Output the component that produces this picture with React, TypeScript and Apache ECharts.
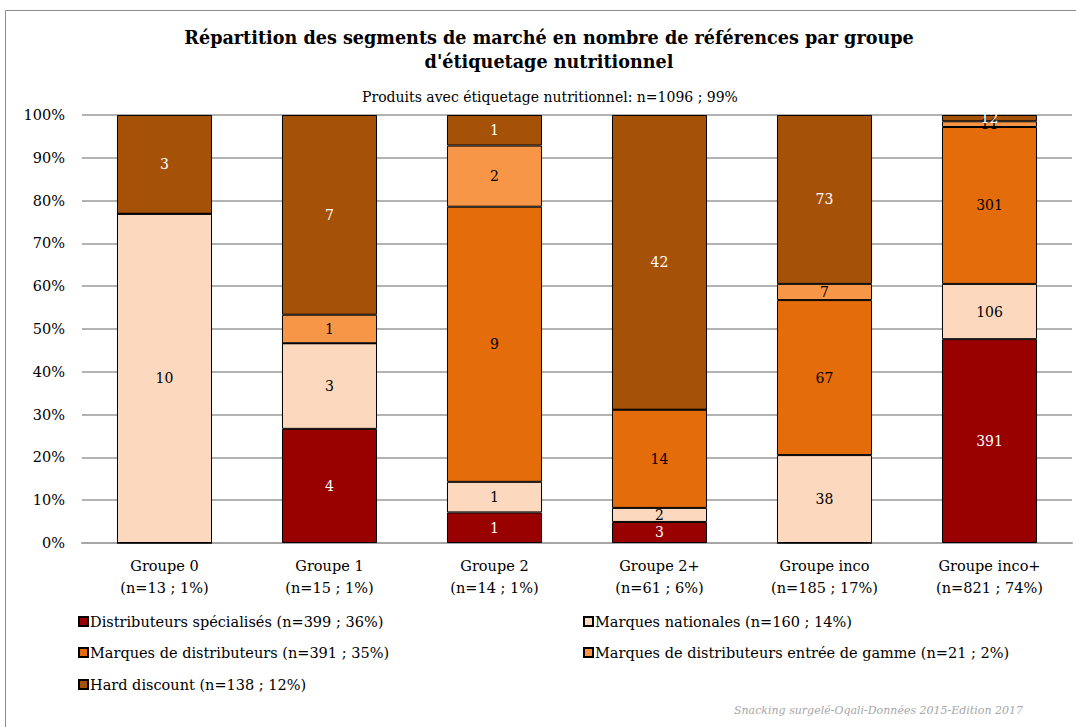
import React, { useEffect, useRef } from "react";
import * as echarts from "echarts";

const categories = [
  "Groupe 0\n(n=13 ; 1%)",
  "Groupe 1\n(n=15 ; 1%)",
  "Groupe 2\n(n=14 ; 1%)",
  "Groupe 2+\n(n=61 ; 6%)",
  "Groupe inco\n(n=185 ; 17%)",
  "Groupe inco+\n(n=821 ; 74%)",
];

const seriesNames = [
  "Distributeurs spécialisés (n=399 ; 36%)",
  "Marques nationales (n=160 ; 14%)",
  "Marques de distributeurs (n=391 ; 35%)",
  "Marques de distributeurs entrée de gamme (n=21 ; 2%)",
  "Hard discount (n=138 ; 12%)",
];

const distributeursSpecialises = [0, 4, 1, 3, 0, 391];
const marquesNationales = [10, 3, 1, 2, 38, 106];
const marquesDistributeurs = [0, 0, 9, 14, 67, 301];
const marquesDistributeursEG = [0, 1, 2, 0, 7, 11];
const hardDiscount = [3, 7, 1, 42, 73, 12];

const seriesCounts = [
  distributeursSpecialises,
  marquesNationales,
  marquesDistributeurs,
  marquesDistributeursEG,
  hardDiscount,
];
const colors = ["#990000", "#FBD8BE", "#E46C0A", "#F79646", "#A65108"];
const labelColors = ["#ffffff", "#000000", "#000000", "#000000", "#ffffff"];

const yTicks = [0, 10, 20, 30, 40, 50, 60, 70, 80, 90, 100];

const title = "Répartition des segments de marché en nombre de références par groupe\nd'étiquetage nutritionnel";
const subtitle = "Produits avec étiquetage nutritionnel: n=1096 ; 99%";
const source = "Snacking surgelé-Oqali-Données 2015-Edition 2017";

const FONT = "'DejaVu Serif', 'Liberation Serif', serif";

export default function App() {
  const ref = useRef<HTMLDivElement>(null);
  useEffect(() => {
    if (!ref.current) return;
    const chart = echarts.init(ref.current, undefined, { renderer: "svg" });
    const totals = categories.map((_, i) =>
      seriesCounts.reduce((s, arr) => s + arr[i], 0)
    );
    const series = seriesCounts.map((arr, si) => ({
      name: seriesNames[si],
      type: "bar",
      stack: "total",
      barWidth: "57.6%",
      data: arr.map((v, i) => ({ value: (v / totals[i]) * 100, count: v })),
      itemStyle: { color: colors[si], borderColor: "#000000", borderWidth: 1 },
      label: {
        show: true,
        position: "inside",
        color: labelColors[si],
        fontFamily: FONT,
        fontSize: 14,
        formatter: (p: any) => (p.data.count > 0 ? String(p.data.count) : ""),
      },
    }));
    const legendPos = [
      { left: 76, top: 612 },
      { left: 581, top: 612 },
      { left: 76, top: 643 },
      { left: 581, top: 643 },
      { left: 76, top: 675 },
    ];
    const legends = seriesNames.map((n, i) => ({
      data: [n],
      left: legendPos[i].left,
      top: legendPos[i].top,
      padding: [2, 2, 2, 2],
      itemWidth: 9,
      itemHeight: 9,
      itemGap: 2,
      icon: "rect",
      textStyle: { fontFamily: FONT, fontSize: 14.5, color: "#000", padding: [0, 0, 0, -3] },
      selectedMode: false,
    }));
    chart.setOption({
      animation: false,
      backgroundColor: "#ffffff",
      grid: { left: 82, right: 4, top: 115, bottom: 184 },
      legend: legends,
      xAxis: {
        type: "category",
        data: categories,
        axisLine: { show: true, lineStyle: { color: "#a6a6a6", width: 2 } },
        axisTick: { show: false },
        axisLabel: {
          fontFamily: FONT,
          fontSize: 14.5,
          color: "#000",
          lineHeight: 22,
          margin: 12,
        },
      },
      yAxis: {
        type: "value",
        min: 0,
        max: 100,
        interval: 10,
        axisLine: { show: false },
        axisTick: { show: false },
        splitLine: { lineStyle: { color: "#b3b3b3", width: 2 } },
        axisLabel: {
          fontFamily: FONT,
          fontSize: 14.5,
          color: "#000",
          margin: 17,
          formatter: (v: number) => (yTicks.includes(v) ? v + "%" : ""),
        },
      },
      series,
      graphic: [
        {
          type: "rect",
          shape: { x: 5.5, y: 10.5, width: 1080, height: 740 },
          style: { fill: "none", stroke: "#8c8c8c", lineWidth: 1 },
          silent: true,
          z: -10,
        },
        {
          type: "text",
          x: 549,
          y: 25,
          style: {
            text: title,
            fontFamily: FONT,
            fontWeight: "bold",
            fontSize: 17.6,
            lineHeight: 24,
            align: "center",
            fill: "#000",
          },
        },
        {
          type: "text",
          x: 550,
          y: 90,
          style: {
            text: subtitle,
            fontFamily: FONT,
            fontSize: 14,
            align: "center",
            fill: "#000",
          },
        },
        {
          type: "text",
          x: 1023,
          y: 705,
          style: {
            text: source,
            fontFamily: FONT,
            fontStyle: "italic",
            fontSize: 11,
            align: "right",
            fill: "#a6a6a6",
          },
        },
      ],
    });
    return () => chart.dispose();
  }, []);
  return (
    <div
      ref={ref}
      style={{ position: "fixed", left: 0, top: 0, width: 1076, height: 727, background: "#fff" }}
    />
  );
}
